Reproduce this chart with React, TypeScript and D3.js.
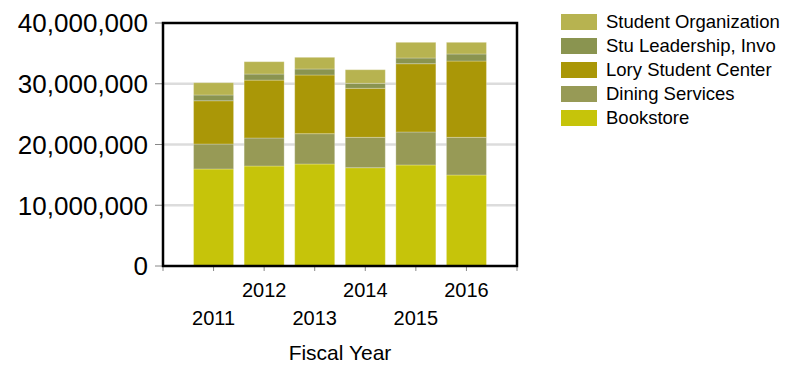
import React from "react";
import * as d3 from "d3";

const years = [2011, 2012, 2013, 2014, 2015, 2016];
const bookstore = [15.97, 16.46, 16.79, 16.18, 16.63, 14.98];
const dining = [4.11, 4.61, 4.99, 5.0, 5.43, 6.2];
const lory = [7.12, 9.53, 9.66, 8.07, 11.24, 12.56];
const stuLeadership = [0.95, 1.0, 0.99, 0.82, 0.94, 1.16];
const studentOrg = [2.02, 2.03, 1.92, 2.24, 2.58, 1.92];
const seriesNames = ["Bookstore", "Dining Services", "Lory Student Center", "Stu Leadership, Invo", "Student Organization"];
const seriesColors = ["#c6c40a", "#979a56", "#aa9707", "#8a9450", "#b7b350"];
const yTicks = [0, 10000000, 20000000, 30000000, 40000000];
const xTicks = [2010, 2011, 2012, 2013, 2014, 2015, 2016, 2017];

const FONT = "'Liberation Sans', Arial, sans-serif";

export default function App() {
  const left = 163, right = 517, top = 23, bottom = 266;
  const x = d3.scaleLinear().domain([2010, 2017]).range([left, right]);
  const y = d3.scaleLinear().domain([0, 40000000]).range([bottom, top]);
  const barW = 40;

  const seriesData = [bookstore, dining, lory, stuLeadership, studentOrg];
  const rows = years.map((yr, i) => {
    const r: any = { year: yr };
    seriesNames.forEach((n, k) => (r[n] = seriesData[k][i] * 1e6));
    return r;
  });
  const stacked = d3.stack().keys(seriesNames)(rows);
  const fmt = d3.format(",");

  return (
    <svg width={786} height={366} style={{ position: "absolute", left: 0, top: 0, background: "#fff" }} fontFamily={FONT}>
      {/* gridlines */}
      {yTicks.slice(1, 4).map((t) => (
        <line key={t} x1={left} x2={right} y1={y(t)} y2={y(t)} stroke="#dcdcdc" strokeWidth={2.5} />
      ))}
      {/* bars */}
      {stacked.map((s, k) => (
        <g key={s.key} fill={seriesColors[k]}>
          {s.map((d, i) => (
            <rect
              key={i}
              x={x(years[i]) - barW / 2}
              width={barW}
              y={y(d[1])}
              height={y(d[0]) - y(d[1])}
              stroke="#ffffff"
              strokeOpacity={0.25}
              strokeWidth={1}
            />
          ))}
        </g>
      ))}
      {/* y ticks */}
      {yTicks.map((t) => (
        <g key={t}>
          <line x1={155} x2={left} y1={y(t)} y2={y(t)} stroke="#888" strokeWidth={1} />
          <text x={148} y={y(t)} dy="0.36em" textAnchor="end" fontSize={26} fill="#000">
            {fmt(t)}
          </text>
        </g>
      ))}
      {/* x ticks */}
      {xTicks.map((t) => (
        <line key={t} x1={x(t)} x2={x(t)} y1={bottom} y2={bottom + 5} stroke="#888" strokeWidth={1} />
      ))}
      {years.map((yr, i) => (
        <text key={yr} x={x(yr)} y={i % 2 === 0 ? 325 : 297} textAnchor="middle" fontSize={20} fill="#000">
          {yr}
        </text>
      ))}
      <text x={(left + right) / 2} y={360} textAnchor="middle" fontSize={21} fill="#000">
        Fiscal Year
      </text>
      {/* frame */}
      <rect x={left} y={top} width={right - left} height={bottom - top} fill="none" stroke="#000" strokeWidth={2.5} />
      {/* legend */}
      {seriesNames
        .map((n, k) => ({ n, c: seriesColors[k] }))
        .reverse()
        .map((d, j) => (
          <g key={d.n} transform={`translate(561, ${14 + j * 24})`}>
            <rect width={36} height={16} fill={d.c} />
            <text x={45} y={14.3} fontSize={18.5} fill="#000">
              {d.n}
            </text>
          </g>
        ))}
    </svg>
  );
}
